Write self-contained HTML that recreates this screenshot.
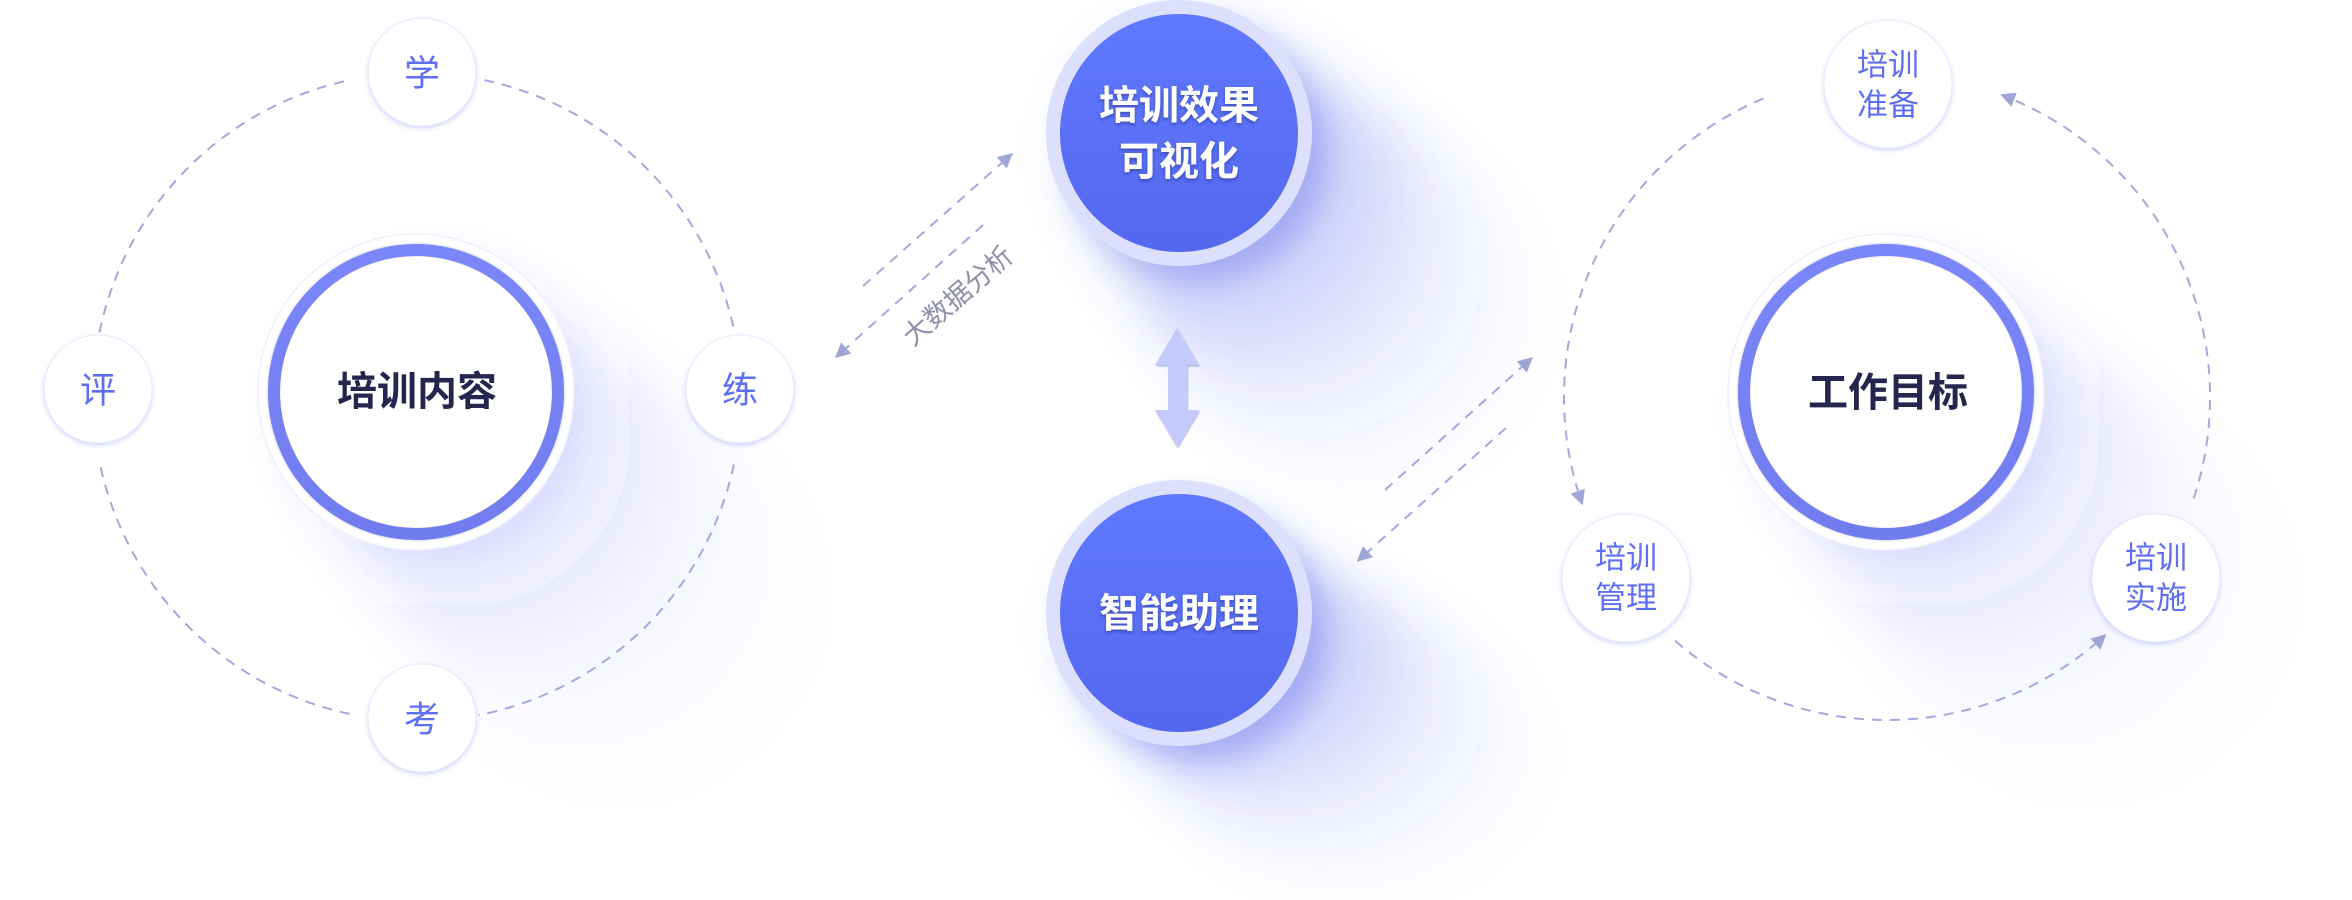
<!DOCTYPE html>
<html>
<head>
<meta charset="utf-8">
<style>
  html,body{margin:0;padding:0;background:#ffffff;}
  body{width:2352px;height:900px;overflow:hidden;}
  svg{display:block;overflow:hidden;}
  text{font-family:"Liberation Sans","Noto Sans CJK SC",sans-serif;text-anchor:middle;dominant-baseline:central;}
  .big{font-size:40px;font-weight:700;fill:#25264d;}
  .bw{font-size:40px;font-weight:700;fill:#ffffff;}
  .s1{font-size:36px;fill:#5f6ff5;}
  .s2{font-size:31px;fill:#5f6ff5;}
  .lbl{font-size:27px;fill:#8d90a8;}
  .dash{fill:none;stroke:#a2a9dc;stroke-width:2;stroke-dasharray:10 8;}
  .ah{fill:#9fa6d6;}
</style>
</head>
<body>
<svg width="2352" height="900" viewBox="0 0 2352 900" xmlns="http://www.w3.org/2000/svg">
  <defs>
    <clipPath id="frame"><rect x="0" y="0" width="2352" height="900"/></clipPath>
    <filter id="blurN" filterUnits="userSpaceOnUse" x="0" y="0" width="2352" height="900">
      <feGaussianBlur stdDeviation="16"/>
    </filter>
    <filter id="blurF" filterUnits="userSpaceOnUse" x="0" y="0" width="2352" height="900">
      <feGaussianBlur stdDeviation="24"/>
    </filter>
    <filter id="ds" x="-30%" y="-30%" width="160%" height="160%">
      <feDropShadow dx="0" dy="2" stdDeviation="2.5" flood-color="#7d88f0" flood-opacity="0.35"/>
    </filter>
    <filter id="ts" x="-20%" y="-30%" width="140%" height="160%">
      <feDropShadow dx="0" dy="2" stdDeviation="1.5" flood-color="#1e2470" flood-opacity="0.45"/>
    </filter>
    <filter id="as" x="-30%" y="-30%" width="160%" height="160%">
      <feDropShadow dx="1" dy="1.5" stdDeviation="0.8" flood-color="#7f86cc" flood-opacity="0.55"/>
    </filter>
    <filter id="ring" x="-10%" y="-10%" width="120%" height="120%">
      <feDropShadow dx="0" dy="0" stdDeviation="1.2" flood-color="#3c42a0" flood-opacity="0.35"/>
    </filter>
    <linearGradient id="bg" x1="0" y1="0" x2="0" y2="1">
      <stop offset="0" stop-color="#6079ff"/>
      <stop offset="1" stop-color="#5467ef"/>
    </linearGradient>
    <linearGradient id="rg" x1="0" y1="0" x2="0" y2="1">
      <stop offset="0" stop-color="#7a86fa"/>
      <stop offset="1" stop-color="#717cef"/>
    </linearGradient>

    <g id="shBF" fill="#5a6aea">
      <circle cx="13" cy="13" r="137" fill-opacity="0.045"/>
      <circle cx="26" cy="26" r="141" fill-opacity="0.042"/>
      <circle cx="39" cy="39" r="145" fill-opacity="0.039"/>
      <circle cx="52" cy="52" r="149" fill-opacity="0.036"/>
      <circle cx="65" cy="65" r="153" fill-opacity="0.033"/>
      <circle cx="78" cy="78" r="157" fill-opacity="0.030"/>
      <circle cx="91" cy="91" r="161" fill-opacity="0.027"/>
      <circle cx="104" cy="104" r="165" fill-opacity="0.024"/>
      <circle cx="117" cy="117" r="169" fill-opacity="0.021"/>
      <circle cx="130" cy="130" r="173" fill-opacity="0.018"/>
      <circle cx="143" cy="143" r="177" fill-opacity="0.015"/>
      <circle cx="156" cy="156" r="181" fill-opacity="0.013"/>
      <circle cx="169" cy="169" r="185" fill-opacity="0.011"/>
      <circle cx="182" cy="182" r="189" fill-opacity="0.009"/>
    </g>
    <g id="shWF" fill="#6a78ee">
      <circle cx="16" cy="16" r="158" fill-opacity="0.020"/>
      <circle cx="32" cy="32" r="162" fill-opacity="0.019"/>
      <circle cx="48" cy="48" r="166" fill-opacity="0.018"/>
      <circle cx="64" cy="64" r="170" fill-opacity="0.017"/>
      <circle cx="80" cy="80" r="174" fill-opacity="0.016"/>
      <circle cx="96" cy="96" r="178" fill-opacity="0.014"/>
      <circle cx="112" cy="112" r="182" fill-opacity="0.012"/>
      <circle cx="128" cy="128" r="186" fill-opacity="0.010"/>
      <circle cx="144" cy="144" r="190" fill-opacity="0.009"/>
      <circle cx="160" cy="160" r="194" fill-opacity="0.008"/>
      <circle cx="176" cy="176" r="198" fill-opacity="0.007"/>
      <circle cx="192" cy="192" r="202" fill-opacity="0.006"/>
      <circle cx="208" cy="208" r="206" fill-opacity="0.005"/>
    </g>
  </defs>

  <g clip-path="url(#frame)">
    <g filter="url(#blurF)"><use href="#shWF" transform="translate(416,392)"/></g>
    <g filter="url(#blurF)"><use href="#shWF" transform="translate(1886,392)"/></g>
    <g filter="url(#blurN)" fill="#6a78ee" fill-opacity="0.10">
      <circle cx="436" cy="412" r="150"/>
      <circle cx="1906" cy="412" r="150"/>
    </g>
    <g filter="url(#blurF)"><use href="#shBF" transform="translate(1179,133)"/></g>
    <g filter="url(#blurF)"><use href="#shBF" transform="translate(1179,613) scale(1,0.78)"/></g>
    <g filter="url(#blurN)" fill="#5a6aea" fill-opacity="0.38">
      <circle cx="1199" cy="153" r="128"/>
      <circle cx="1199" cy="633" r="128"/>
    </g>
  </g>

  <!-- left orbit dashed arcs -->
  <path class="dash" d="M484.4 80.1 A324 324 0 0 1 734.5 332.4"/>
  <path class="dash" d="M733.9 464.4 A324 324 0 0 1 478.8 715.0"/>
  <path class="dash" d="M349.6 713.9 A324 324 0 0 1 100.1 464.4"/>
  <path class="dash" d="M99.5 332.4 A324 324 0 0 1 349.6 80.1"/>

  <!-- right orbit dashed arcs with arrows -->
  <path class="dash" d="M1763.4 98.6 A323 323 0 0 0 1578.0 491.1"/>
  <polygon class="ah" points="1582.7,505.4 1570.6,493.8 1584.8,488.8"/>
  <path class="dash" d="M1675.1 640.8 A323 323 0 0 0 2095.2 643.9"/>
  <polygon class="ah" points="2106.4,634.0 2100.5,649.7 2090.3,638.7"/>
  <path class="dash" d="M2193.7 498.4 A323 323 0 0 0 2014.0 100.0"/>
  <polygon class="ah" points="2000.1,94.4 2016.7,92.7 2011.5,106.7"/>

  <!-- straight dashed arrows left -->
  <path class="dash" d="M863 286 L1001.8 162.9"/>
  <polygon class="ah" points="1013,153 1006.8,168.5 996.8,157.3"/>
  <path class="dash" d="M983 225 L846.2 348.0"/>
  <polygon class="ah" points="835,358 841.2,342.4 851.2,353.6"/>
  <text class="lbl" x="958" y="296" transform="rotate(-41 958 296)">大数据分析</text>

  <!-- straight dashed arrows right -->
  <path class="dash" d="M1385 490 L1521.8 367.0"/>
  <polygon class="ah" points="1533,357 1526.8,372.6 1516.8,361.4"/>
  <path class="dash" d="M1506 428 L1367.9 551.7"/>
  <polygon class="ah" points="1356.7,561.7 1362.9,546.1 1372.9,557.3"/>

  <!-- double arrow -->
  <polygon filter="url(#as)" fill="#c4cafc" points="1177,328 1199,365 1187,365 1187,410 1199,410 1177,447 1155,410 1168,410 1168,365 1155,365"/>

  <!-- left big circle -->
  <circle cx="416" cy="392" r="158" fill="#ffffff" stroke="#eeeffc" stroke-width="1.5"/>
  <circle cx="416" cy="392" r="142" fill="none" stroke="url(#rg)" stroke-width="12" filter="url(#ring)"/>
  <circle cx="416" cy="392" r="135.5" fill="#ffffff"/>
  <text class="big" x="417" y="392">培训内容</text>

  <!-- right big circle -->
  <circle cx="1886" cy="392" r="158" fill="#ffffff" stroke="#eeeffc" stroke-width="1.5"/>
  <circle cx="1886" cy="392" r="142" fill="none" stroke="url(#rg)" stroke-width="12" filter="url(#ring)"/>
  <circle cx="1886" cy="392" r="135.5" fill="#ffffff"/>
  <text class="big" x="1888" y="393">工作目标</text>

  <!-- blue circles -->
  <circle cx="1179" cy="133" r="133" fill="#dde0fc"/>
  <circle cx="1179" cy="133" r="119" fill="url(#bg)"/>
  <g filter="url(#ts)">
    <text class="bw" x="1179" y="106">培训效果</text>
    <text class="bw" x="1179" y="162">可视化</text>
  </g>

  <circle cx="1179" cy="613" r="133" fill="#dde0fc"/>
  <circle cx="1179" cy="613" r="119" fill="url(#bg)"/>
  <g filter="url(#ts)">
    <text class="bw" x="1179" y="614">智能助理</text>
  </g>

  <!-- small circles -->
  <g filter="url(#ds)" fill="#ffffff" stroke="#e6e8fc" stroke-width="1">
    <circle cx="422" cy="72" r="54"/>
    <circle cx="98" cy="389" r="54"/>
    <circle cx="740" cy="389" r="54"/>
    <circle cx="422" cy="718" r="54"/>
    <circle cx="1888" cy="84" r="64"/>
    <circle cx="1626" cy="578" r="64"/>
    <circle cx="2156" cy="578" r="64"/>
  </g>
  <text class="s1" x="422" y="73">学</text>
  <text class="s1" x="98" y="390">评</text>
  <text class="s1" x="740" y="390">练</text>
  <text class="s1" x="422" y="719">考</text>

  <text class="s2" x="1888" y="65">培训</text>
  <text class="s2" x="1888" y="105">准备</text>
  <text class="s2" x="1626" y="558">培训</text>
  <text class="s2" x="1626" y="598">管理</text>
  <text class="s2" x="2156" y="558">培训</text>
  <text class="s2" x="2156" y="598">实施</text>
</svg>
</body>
</html>
